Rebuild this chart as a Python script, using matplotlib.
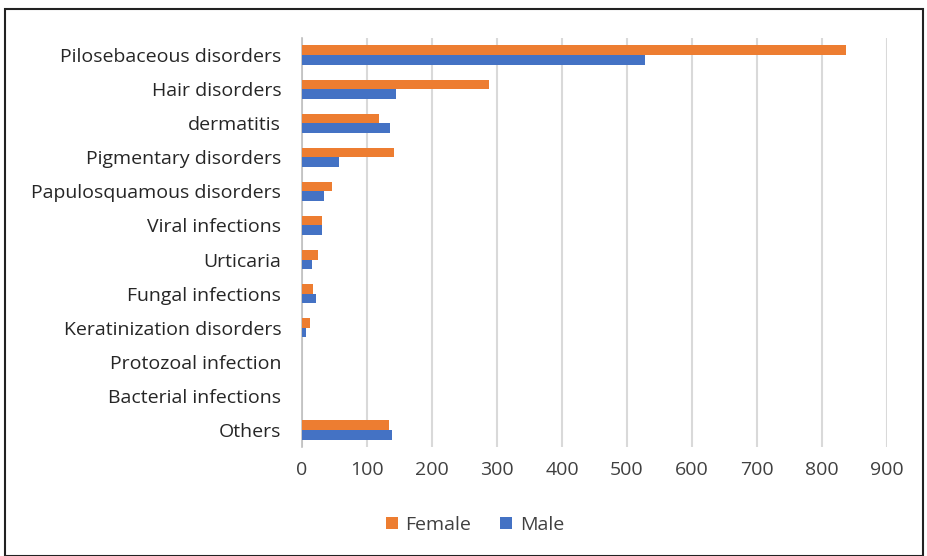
import matplotlib
matplotlib.use("Agg")
import matplotlib.pyplot as plt
import numpy as np
from matplotlib.patches import Rectangle

categories = ["Pilosebaceous disorders", "Hair disorders", "dermatitis", "Pigmentary disorders",
              "Papulosquamous disorders", "Viral infections", "Urticaria", "Fungal infections",
              "Keratinization disorders", "Protozoal infection", "Bacterial infections", "Others"]
female = [837, 288, 118, 142, 46, 31, 24, 17, 12, 0, 0, 134]
male = [528, 144, 136, 57, 34, 31, 16, 22, 6, 0, 0, 139]
xticks = [0, 100, 200, 300, 400, 500, 600, 700, 800, 900]

plt.rcParams['font.family'] = ['Open Sans', 'DejaVu Sans']

W, H = 928, 556
fig = plt.figure(figsize=(W / 100, H / 100), dpi=100)
ax = fig.add_axes([302 / W, 1 - 447 / H, (887 - 302) / W, (447 - 38) / H])

n = len(categories)
y = np.arange(n)
bh = 0.28
ax.barh(y - bh / 2, female, height=bh, color="#ED7D31", label="Female", zorder=3)
ax.barh(y + bh / 2, male, height=bh, color="#4472C4", label="Male", zorder=3)

ax.set_ylim(n - 0.5, -0.5)
ax.set_xlim(0, 900)
ax.set_xticks(xticks)
ax.set_xticklabels([str(v) for v in xticks], fontsize=14, color="#404040")
ax.set_yticks(y)
ax.set_yticklabels(categories, fontsize=14, color="#262626")
ax.tick_params(axis="both", length=0)
ax.tick_params(axis="x", pad=10)
ax.tick_params(axis="y", pad=15)
ax.grid(axis="x", color="#D9D9D9", linewidth=1.5, zorder=0)
for s in ["top", "right", "bottom"]:
    ax.spines[s].set_visible(False)
ax.spines["left"].set_color("#BFBFBF")
ax.spines["left"].set_linewidth(1.2)

leg = fig.legend(loc="center", bbox_to_anchor=(475 / W, 1 - 525 / H), ncol=2, frameon=False,
                 fontsize=14, handlelength=0.6, handleheight=0.6, columnspacing=1.5, handletextpad=0.4)
for t in leg.get_texts():
    t.set_color("#404040")

fig.patches.append(Rectangle((5 / W, 0), (923 - 5) / W, 1 - 9 / H, transform=fig.transFigure,
                             fill=False, edgecolor="#222222", linewidth=1.5))

fig.savefig("out.png", dpi=100)
